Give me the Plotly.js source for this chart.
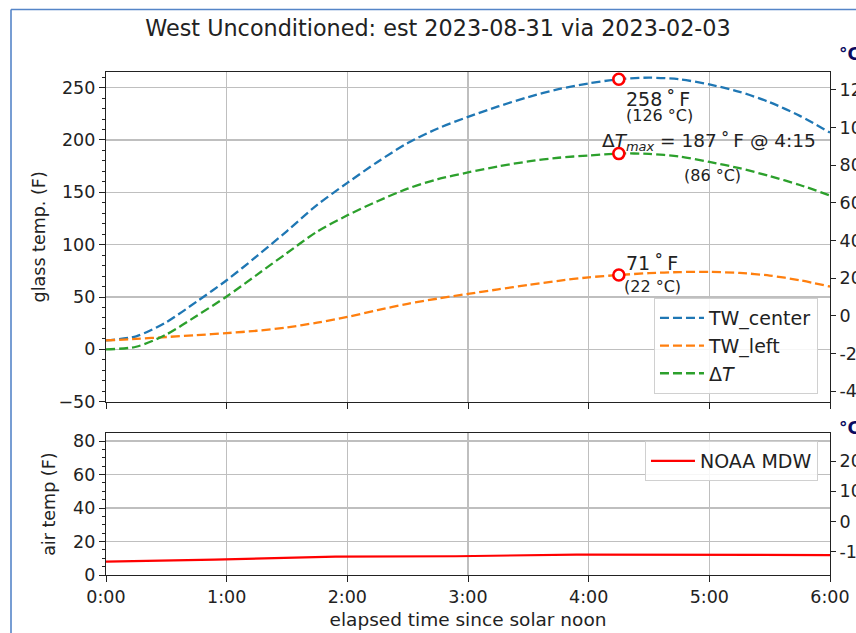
<!DOCTYPE html>
<html>
<head>
<meta charset="utf-8">
<script src="https://cdn.plot.ly/plotly-3.0.1.min.js"></script>
<style>
html,body{margin:0;padding:0;background:#fff;}
#chart{width:856px;height:633px;}
</style>
</head>
<body>
<div id="chart"></div>
<script>
// ---- data ----
const hours = [0,0.25,0.5,0.75,1,1.25,1.5,1.75,2,2.25,2.5,2.75,3,3.25,3.5,3.75,4,4.25,4.5,4.75,5,5.25,5.5,5.75,6];
const twCenter = [8.5,12.5,26,45.5,66,89,113,138,159,179,197,211,222,232,241,248.5,254,258,259.5,258,253,246,236,223,207];
const twLeft   = [8.5,10,11.8,13.6,15.5,17.8,21,25.5,31,37.5,43.5,48.5,53,57.3,61.5,65.5,68.8,71,72.8,73.8,74,73,70.5,66,60];
const deltaT   = [0,2.5,14.2,31.9,50.5,71.2,92,112.5,128,141.5,153.5,162.5,169,174.7,179.5,183,185.2,187,186.7,184.2,179,173,165.5,157,147];
const airHours = [0,0.9,1.9,2.9,3.9,4.9,6];
const airTemp  = [8.0,9.2,11.0,11.2,12.2,12.2,11.9];
const peakHour = 4.25;
const peakVals = [258,187,71];
const xTickVals = [0,1,2,3,4,5,6];
const xTickText = ["0:00","1:00","2:00","3:00","4:00","5:00","6:00"];
const cTopVals = [-40,-20,0,20,40,60,80,100,120];
const cBotVals = [-10,0,10,20];

const F = "DejaVu Sans, sans-serif";
const toC = f => (f-32)/1.8;
const dashPat = "9px,4px";
const traces = [
  {x:hours,y:twCenter,name:"TW_center",mode:"lines",xaxis:"x2",yaxis:"y",
   line:{color:"#1f77b4",width:2.3,dash:dashPat,shape:"spline",smoothing:0.8}},
  {x:hours,y:twLeft,name:"TW_left",mode:"lines",xaxis:"x2",yaxis:"y",
   line:{color:"#ff7f0e",width:2.3,dash:dashPat,shape:"spline",smoothing:0.8}},
  {x:hours,y:deltaT,name:"Δ<i>T</i>",mode:"lines",xaxis:"x2",yaxis:"y",
   line:{color:"#2ca02c",width:2.3,dash:dashPat,shape:"spline",smoothing:0.8}},
  {x:peakVals.map(()=>peakHour),y:peakVals,mode:"markers",xaxis:"x2",yaxis:"y",showlegend:false,
   marker:{symbol:"circle",size:11,color:"white",line:{color:"red",width:2.6}}},
  // same peak points expressed in °C on the right-hand axis (invisible, keeps the °C axis drawn)
  {x:peakVals.map(()=>peakHour),y:peakVals.map(toC),mode:"markers",xaxis:"x2",yaxis:"y3",showlegend:false,
   hoverinfo:"skip",marker:{size:1,opacity:0}},
  {x:airHours,y:airTemp,name:"NOAA MDW",mode:"lines",xaxis:"x",yaxis:"y2",legend:"legend2",
   line:{color:"red",width:2.2}},
  {x:airHours,y:airTemp.map(toC),mode:"markers",xaxis:"x",yaxis:"y4",showlegend:false,
   hoverinfo:"skip",marker:{size:1,opacity:0}}
];

const topRange = [-50,264.9];
const botRange = [0,84.6];
const grid = "#bfbfbf";
const tickFont = {family:F,size:17.5,color:"#222"};
const axBase = {showline:true,linecolor:"#222",linewidth:1.1,mirror:true,zeroline:false,
  ticks:"outside",ticklen:6,tickcolor:"#222",gridcolor:grid,gridwidth:1.2,tickfont:tickFont};
const rightAx = {side:"right",showgrid:false,zeroline:false,ticks:"outside",ticklen:5,tickcolor:"#222",
  showline:false,tickfont:tickFont};

const layout = {
  width:856,height:633,
  paper_bgcolor:"#fff",plot_bgcolor:"#fff",
  margin:{l:106,r:26,t:72,b:58},
  font:{family:F,color:"#222"},
  title:{text:"West Unconditioned: est 2023-08-31 via 2023-02-03",xref:"container",yref:"container",
    x:438/856,y:1-28/633,xanchor:"center",yanchor:"middle",font:{family:F,size:22.3,color:"#222"}},
  xaxis:Object.assign({},axBase,{domain:[0,1],anchor:"y2",range:[0,6],tickvals:xTickVals,ticktext:xTickText,
    title:{text:"elapsed time since solar noon",font:{family:F,size:18.5,color:"#222"},standoff:7}}),
  xaxis2:Object.assign({},axBase,{domain:[0,1],anchor:"y",matches:"x",range:[0,6],tickvals:xTickVals,showticklabels:false}),
  yaxis:Object.assign({},axBase,{domain:[0.3445,1],anchor:"x2",range:topRange,dtick:50,
    minor:{dtick:10,ticklen:3,tickcolor:"#222",ticks:"outside",showgrid:false},
    title:{text:"glass temp. (F)",font:{family:F,size:17.5,color:"#222"},standoff:8}}),
  yaxis2:Object.assign({},axBase,{domain:[0,0.2817],anchor:"x",range:botRange,dtick:20,
    minor:{dtick:5,ticklen:3,tickcolor:"#222",ticks:"outside",showgrid:false},
    title:{text:"air temp (F)",font:{family:F,size:17.5,color:"#222"},standoff:13}}),
  yaxis3:Object.assign({},rightAx,{overlaying:"y",anchor:"x2",range:topRange.map(toC),
    tickvals:cTopVals,ticktext:cTopVals.map(String)}),
  yaxis4:Object.assign({},rightAx,{overlaying:"y2",anchor:"x",range:botRange.map(toC),
    tickvals:cBotVals,ticktext:cBotVals.map(String)}),
  legend:{x:0.9834,xanchor:"right",y:0.5507,yanchor:"top",bgcolor:"rgba(255,255,255,0.85)",itemwidth:44,
    bordercolor:"#d0d0d0",borderwidth:1,font:{family:F,size:19,color:"#222"}},
  legend2:{x:0.9834,xanchor:"right",y:0.2664,yanchor:"top",bgcolor:"rgba(255,255,255,0.85)",itemwidth:44,
    bordercolor:"#d0d0d0",borderwidth:1,font:{family:F,size:19,color:"#222"}},
  annotations:[
    {xref:"x2",yref:"y",x:4.29,y:239,text:"258\u2009˚\u2009F",showarrow:false,xanchor:"left",yanchor:"middle",font:{family:F,size:19,color:"#222"}},
    {xref:"x2",yref:"y",x:4.29,y:223,text:"(126 °C)",showarrow:false,xanchor:"left",yanchor:"middle",font:{family:F,size:16,color:"#222"}},
    {xref:"x2",yref:"y",x:4.094,y:198,text:"Δ<i>T</i><sub><i>max</i></sub> = 187\u2009˚\u2009F @ 4:15",showarrow:false,xanchor:"left",yanchor:"middle",font:{family:F,size:18.5,color:"#222"}},
    {xref:"x2",yref:"y",x:4.773,y:166.3,text:"(86 °C)",showarrow:false,xanchor:"left",yanchor:"middle",font:{family:F,size:16,color:"#222"}},
    {xref:"x2",yref:"y",x:4.29,y:82.6,text:"71\u2009˚\u2009F",showarrow:false,xanchor:"left",yanchor:"middle",font:{family:F,size:19,color:"#222"}},
    {xref:"x2",yref:"y",x:4.275,y:60.4,text:"(22 °C)",showarrow:false,xanchor:"left",yanchor:"middle",font:{family:F,size:16,color:"#222"}},
    {xref:"paper",yref:"paper",x:(837-106)/724,y:(575-54)/503,text:"<b>°C</b>",showarrow:false,xanchor:"left",yanchor:"middle",font:{family:F,size:17,color:"#0a0a60"}},
    {xref:"paper",yref:"paper",x:(837-106)/724,y:(575-428)/503,text:"<b>°C</b>",showarrow:false,xanchor:"left",yanchor:"middle",font:{family:F,size:17,color:"#0a0a60"}}
  ],
  shapes:[
    {type:"line",xref:"paper",yref:"paper",x0:(11-106)/724,x1:(11-106)/724,y0:(575-640)/503,y1:(575-9.5)/503,line:{color:"#5585c8",width:1.6}},
    {type:"line",xref:"paper",yref:"paper",x0:(11-106)/724,x1:(870-106)/724,y0:(575-9.5)/503,y1:(575-9.5)/503,line:{color:"#5585c8",width:1.6}}
  ]
};

Plotly.newPlot("chart",traces,layout,{displayModeBar:false,staticPlot:true});
</script>
</body>
</html>
